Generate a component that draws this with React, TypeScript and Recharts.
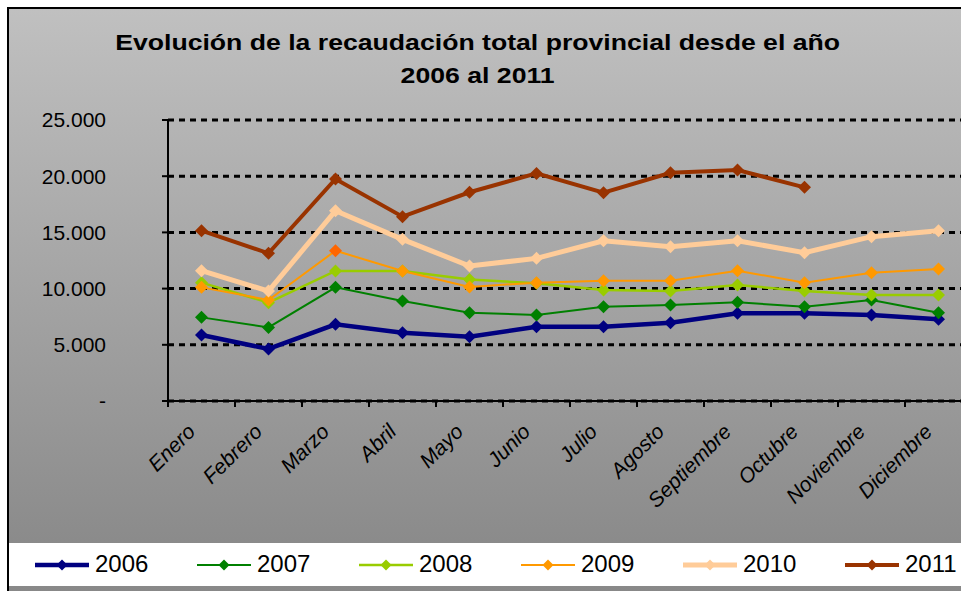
import React from "react";
import { LineChart, Line, XAxis, YAxis, CartesianGrid, Legend } from "recharts";

const months = [
  "Enero",
  "Febrero",
  "Marzo",
  "Abril",
  "Mayo",
  "Junio",
  "Julio",
  "Agosto",
  "Septiembre",
  "Octubre",
  "Noviembre",
  "Diciembre",
];

const v2006 = [5870, 4630, 6820, 6080, 5720, 6610, 6610, 6970, 7800, 7800, 7650, 7270];
const v2007 = [7440, 6550, 10110, 8900, 7860, 7650, 8390, 8540, 8780, 8390, 8990, 7860];
const v2008 = [10530, 8750, 11570, 11570, 10800, 10470, 9880, 9790, 10320, 9790, 9430, 9430];
const v2009 = [10110, 8990, 13370, 11570, 10150, 10530, 10700, 10700, 11590, 10530, 11420, 11740];
const v2010 = [11590, 9780, 16930, 14380, 12010, 12690, 14260, 13730, 14260, 13190, 14620, 15150];
const v2011 = [15150, 13140, 19750, 16400, 18570, 20250, 18530, 20300, 20550, 19010, null, null];

const yTicks = [0, 5000, 10000, 15000, 20000, 25000];

const series = [
  { key: "y2006", name: "2006", values: v2006, color: "#000080", width: 4.5 },
  { key: "y2007", name: "2007", values: v2007, color: "#008000", width: 2 },
  { key: "y2008", name: "2008", values: v2008, color: "#99CC00", width: 2.5 },
  { key: "y2009", name: "2009", values: v2009, color: "#FF9900", width: 2 },
  { key: "y2010", name: "2010", values: v2010, color: "#FFCC99", width: 5 },
  { key: "y2011", name: "2011", values: v2011, color: "#993300", width: 4 },
];

const data = months.map((m, i) => {
  const row: any = { month: m };
  series.forEach((s) => (row[s.key] = s.values[i]));
  return row;
});

const FONT = "'Liberation Sans', Arial, sans-serif";

const fmt = (v: number) => (v === 0 ? "-" : v.toLocaleString("de-DE"));

const diamond = (cx: number, cy: number, r: number) =>
  `${cx},${cy - r} ${cx + r},${cy} ${cx},${cy + r} ${cx - r},${cy}`;

const makeDot = (color: string, special?: { index: number; color: string }) => (p: any) => {
  const { cx, cy, index } = p;
  if (cx == null || cy == null || p.value == null) return <g key={index} />;
  const fill = special && special.index === index ? special.color : color;
  return <polygon key={index} points={diamond(cx, cy, 6.5)} fill={fill} />;
};

const MonthTick = (props: any) => {
  const { x, y, payload } = props;
  const off = payload.offset ?? 0;
  return (
    <g>
      <line x1={x - off} y1={y} x2={x - off} y2={y + 6} stroke="#000" strokeWidth={2} />
      <text
        transform={`translate(${x - 5},${y + 32}) rotate(-45)`}
        textAnchor="end"
        fontFamily={FONT}
        fontSize={21}
        fontStyle="italic"
        fill="#000"
      >
        {payload.value}
      </text>
    </g>
  );
};

const LegendBox = () => (
  <div style={{ position: "relative", width: 952, height: 43 }}>
    {series.map((s, i) => (
      <div key={s.key} style={{ position: "absolute", left: 26 + i * 162, top: 0, height: 43 }}>
        <svg width={56} height={43} style={{ position: "absolute", left: 0, top: 0 }}>
          <line x1={0} y1={22} x2={54} y2={22} stroke={s.color} strokeWidth={s.width} />
          <polygon points={diamond(27, 22, 5.5)} fill={s.color} />
        </svg>
        <span
          style={{
            position: "absolute",
            left: 60,
            top: 6,
            fontFamily: FONT,
            fontSize: 24,
            lineHeight: "30px",
            color: "#000",
          }}
        >
          {s.name}
        </span>
      </div>
    ))}
  </div>
);

export default function App() {
  return (
    <div
      style={{
        position: "absolute",
        left: 0,
        top: 0,
        width: 961,
        height: 591,
        overflow: "hidden",
        background: "#fff",
      }}
    >
      <div
        style={{
          position: "absolute",
          left: 7,
          top: 7,
          width: 960,
          height: 590,
          boxSizing: "border-box",
          borderLeft: "2px solid #000",
          borderTop: "2px solid #000",
          background: "linear-gradient(to bottom, #c0c0c0 0%, #8a8a8a 92%, #888888 100%)",
        }}
      />
      <div
        style={{
          position: "absolute",
          left: 0,
          top: 26,
          width: 955,
          textAlign: "center",
          fontFamily: FONT,
          fontWeight: "bold",
          fontSize: 22,
          lineHeight: "33px",
          color: "#000",
          transform: "scaleX(1.21)",
          transformOrigin: "477px 0",
        }}
      >
        <div>Evolución de la recaudación total provincial desde el año</div>
        <div>2006 al 2011</div>
      </div>
      <div style={{ position: "absolute", left: 0, top: 0 }}>
        <LineChart
          width={1000}
          height={591}
          data={data}
          margin={{ top: 120, right: 28, left: 0, bottom: 90 }}
        >
          <CartesianGrid
            vertical={false}
            stroke="#000"
            strokeWidth={3}
            strokeDasharray="6 5"
          />
          <XAxis
            dataKey="month"
            scale="band"
            height={100}
            interval={0}
            tickLine={false}
            tickSize={0}
            tickMargin={0}
            axisLine={{ stroke: "#000", strokeWidth: 2 }}
            tick={<MonthTick />}
          />
          <YAxis
            width={168}
            domain={[0, 25000]}
            ticks={yTicks}
            interval={0}
            tickFormatter={fmt}
            tickSize={6}
            tickMargin={56}
            tickLine={{ stroke: "#000", strokeWidth: 2 }}
            axisLine={{ stroke: "#000", strokeWidth: 2 }}
            tick={{ fill: "#000", fontSize: 21, fontFamily: FONT }}
          />
          {series.map((s) => (
            <Line
              key={s.key}
              dataKey={s.key}
              name={s.name}
              type="linear"
              stroke={s.color}
              strokeWidth={s.width}
              dot={makeDot(s.color, s.key === "y2009" ? { index: 2, color: "#FF6600" } : undefined)}
              activeDot={false}
              isAnimationActive={false}
            />
          ))}
          <Legend
            layout="horizontal"
            verticalAlign="middle"
            align="center"
            wrapperStyle={{
              position: "absolute",
              left: 9,
              top: 543,
              width: 952,
              height: 43,
              background: "#fff",
            }}
            content={() => <LegendBox />}
          />
        </LineChart>
      </div>
    </div>
  );
}
